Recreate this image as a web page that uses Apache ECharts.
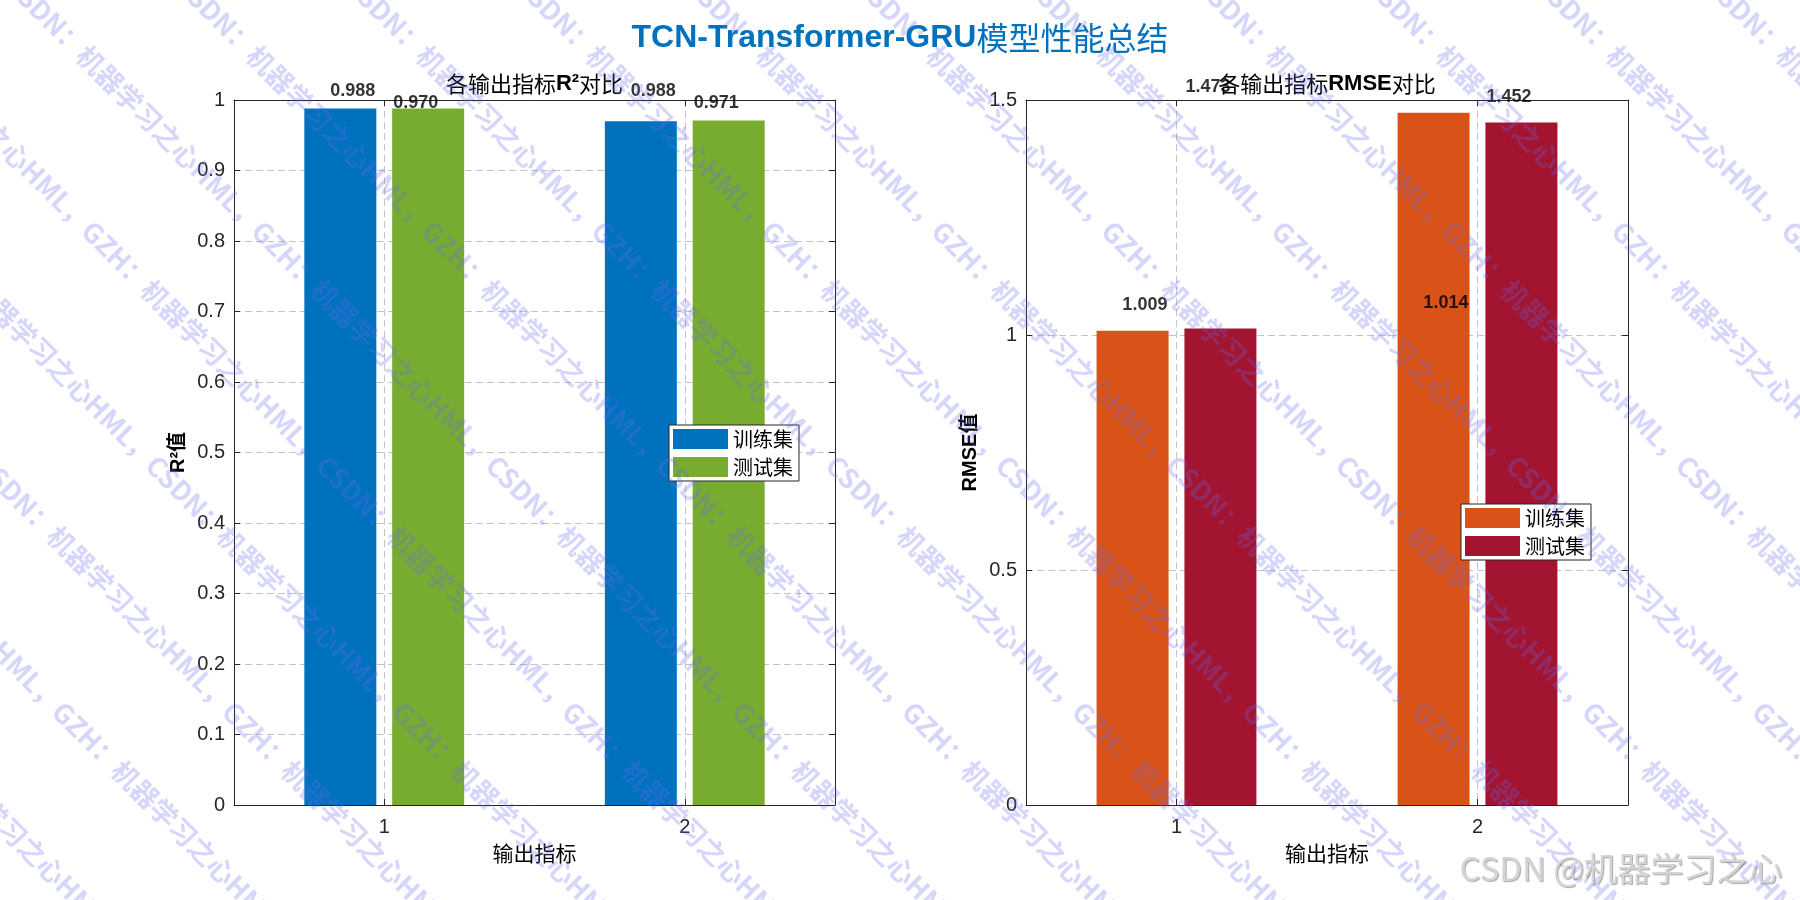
<!DOCTYPE html>
<html><head><meta charset="utf-8">
<script src="https://cdn.jsdelivr.net/npm/echarts@6/dist/echarts.min.js"></script>
<style>html,body{margin:0;padding:0;background:#fff}#c{width:1800px;height:900px}</style>
</head><body><div id="c"></div>
<script>
// ---------- data ----------
const categories = [1, 2];
const setNames = ['训练集', '测试集'];
const r2Train = [0.988, 0.970];
const r2Test = [0.988, 0.971];
const rmseTrain = [1.009, 1.473];
const rmseTest = [1.014, 1.452];
const r2Ticks = [0, 0.1, 0.2, 0.3, 0.4, 0.5, 0.6, 0.7, 0.8, 0.9, 1];
const rmseTicks = [0, 0.5, 1, 1.5];
const mainTitle = 'TCN-Transformer-GRU';
const mainTitleCn = '模型性能总结';

// ---------- style ----------
const LAT = '"Liberation Sans", Arial, sans-serif';
const CJK = '"Noto Sans CJK SC", sans-serif';
const MIX = '"Liberation Sans", "Noto Sans CJK SC", sans-serif';
const AX = '#262626';
const GRIDC = '#c4c4c4';

// value labels replicate the reference: values read in column order, placed slot by slot
function buildLabels(train, test, yOffset) {
  const flat = train.concat(test);
  const out = [];
  categories.forEach((c, i) => {
    [-1, 1].forEach((side, j) => {
      const v = flat[i * 2 + j];
      out.push([c + side * 0.105, v + yOffset, v.toFixed(3)]);
    });
  });
  return out;
}

const grids = [
  { left: 234, top: 100, width: 601, height: 705 },
  { left: 1026, top: 100, width: 602, height: 705 }
];

function xAxes(gi) {
  const base = {
    type: 'value', gridIndex: gi, min: 0.5, max: 2.5,
    axisLine: { show: true, onZero: false, lineStyle: { color: AX, width: 1 } },
  };
  return [
    Object.assign({}, base, {
      position: 'bottom',
      name: '输出指标', nameLocation: 'middle', nameGap: 38,
      nameTextStyle: { fontFamily: CJK, fontSize: 21, color: '#000' },
      axisTick: { show: true, inside: true, length: 6, lineStyle: { color: AX }, customValues: categories },
      axisLabel: { show: true, margin: 12, fontFamily: LAT, fontSize: 20, color: AX, customValues: categories },
      splitLine: { show: true, lineStyle: { color: GRIDC, type: [7, 4], width: 1 } }
    }),
    Object.assign({}, base, {
      position: 'top',
      axisTick: { show: true, inside: true, length: 6, lineStyle: { color: AX }, customValues: categories },
      axisLabel: { show: false },
      splitLine: { show: false }
    })
  ];
}

function yAxes(gi, ticks, name) {
  const mn = ticks[0], mx = ticks[ticks.length - 1], iv = ticks[1] - ticks[0];
  const base = {
    type: 'value', gridIndex: gi, min: mn, max: mx, interval: iv,
    axisLine: { show: true, onZero: false, lineStyle: { color: AX, width: 1 } },
  };
  return [
    Object.assign({}, base, {
      position: 'left',
      name: name, nameLocation: 'middle', nameGap: 46,
      nameTextStyle: { fontFamily: MIX, fontSize: 20, fontWeight: 'bold', color: '#000' },
      axisTick: { show: true, inside: true, length: 6, lineStyle: { color: AX } },
      axisLabel: { margin: 9, fontFamily: LAT, fontSize: 20, color: AX,
        formatter: v => String(Math.round(v * 10) / 10) },
      splitLine: { show: true, lineStyle: { color: GRIDC, type: [7, 4], width: 1 } }
    }),
    Object.assign({}, base, {
      position: 'right',
      axisTick: { show: true, inside: true, length: 6, lineStyle: { color: AX } },
      axisLabel: { show: false },
      splitLine: { show: false }
    })
  ];
}

function barSeries(name, data, color, xi, yi) {
  return {
    type: 'bar', name: name, xAxisIndex: xi, yAxisIndex: yi,
    data: categories.map((c, i) => [c, data[i]]),
    barWidth: 72, barGap: '22%',
    itemStyle: { color: color },
    z: 3
  };
}

function labelSeries(data, xi, yi) {
  return {
    type: 'scatter', xAxisIndex: xi, yAxisIndex: yi, symbolSize: 0, silent: true, clip: false,
    data: data, z: 5,
    label: { show: true, position: 'inside', formatter: p => p.data[2],
      fontFamily: LAT, fontSize: 18, fontWeight: 'bold', color: '#000' }
  };
}

// watermark (decorative)
const wmText = 'CSDN：机器学习之心HML，GZH：机器学习之心HML，';
const wm = [];
for (let k = -7; k < 13; k++) {
  wm.push({
    type: 'text', x: k * 170 + 20, y: -30, rotation: -Math.PI / 4, silent: true, z: 100,
    style: { text: wmText.repeat(3), font: 'bold 27px "Noto Sans CJK SC"', fill: 'rgba(105,105,240,0.27)' }
  });
}

const option = {
  backgroundColor: '#fff',
  animation: false,
  grid: grids,
  xAxis: xAxes(0).concat(xAxes(1)),
  yAxis: yAxes(0, r2Ticks, 'R²值').concat(yAxes(1, rmseTicks, 'RMSE值')),
  legend: [
    { data: setNames, left: 669, top: 425, orient: 'vertical', selectedMode: false,
      itemWidth: 55, itemHeight: 20, itemGap: 8, padding: [4, 6, 4, 4], icon: 'rect',
      borderColor: AX, borderWidth: 1, backgroundColor: '#fff', z: 20,
      textStyle: { fontFamily: CJK, fontSize: 20, color: '#000' } },
    { data: setNames.map(n => 'RMSE' + n), left: 1461, top: 504, orient: 'vertical', selectedMode: false,
      formatter: n => n.replace(/^RMSE/, ''),
      itemWidth: 55, itemHeight: 20, itemGap: 8, padding: [4, 6, 4, 4], icon: 'rect',
      borderColor: AX, borderWidth: 1, backgroundColor: '#fff', z: 20,
      textStyle: { fontFamily: CJK, fontSize: 20, color: '#000' } }
  ],
  graphic: [
    { type: 'text', x: 900, y: 38, z: 50, silent: true,
      style: { text: '{a|' + mainTitle + '}{b|' + mainTitleCn + '}', align: 'center', verticalAlign: 'middle',
        rich: { a: { font: 'bold 32px ' + LAT, fill: '#0072BD' }, b: { font: '32px ' + CJK, fill: '#0072BD' } } } },
    { type: 'text', x: 534.5, y: 84, z: 50, silent: true,
      style: { text: '{c|各输出指标}{d|R²}{c|对比}', align: 'center', verticalAlign: 'middle',
        rich: { c: { font: '22px ' + CJK, fill: '#000' }, d: { font: 'bold 22px ' + LAT, fill: '#000' } } } },
    { type: 'text', x: 1327, y: 84, z: 50, silent: true,
      style: { text: '{c|各输出指标}{d|RMSE}{c|对比}', align: 'center', verticalAlign: 'middle',
        rich: { c: { font: '22px ' + CJK, fill: '#000' }, d: { font: 'bold 22px ' + LAT, fill: '#000' } } } },
    { type: 'text', x: 1621, y: 868, z: 101, silent: true,
      style: { text: 'CSDN @机器学习之心', align: 'center', verticalAlign: 'middle',
        font: '33px ' + CJK, fill: '#d4d4d4', textShadowColor: 'rgba(0,0,0,0.35)', textShadowBlur: 1, textShadowOffsetX: 1, textShadowOffsetY: 1 } }
  ].concat(wm),
  series: [
    barSeries(setNames[0], r2Train, '#0072BD', 0, 0),
    barSeries(setNames[1], r2Test, '#77AC30', 0, 0),
    labelSeries(buildLabels(r2Train, r2Test, 0.025), 0, 0),
    barSeries('RMSE' + setNames[0], rmseTrain, '#D95319', 2, 2),
    barSeries('RMSE' + setNames[1], rmseTest, '#A2142F', 2, 2),
    labelSeries(buildLabels(rmseTrain, rmseTest, 0.055), 2, 2)
  ]
};

const chart = echarts.init(document.getElementById('c'), null, { renderer: 'canvas' });
chart.setOption(option);
</script>
</body></html>
